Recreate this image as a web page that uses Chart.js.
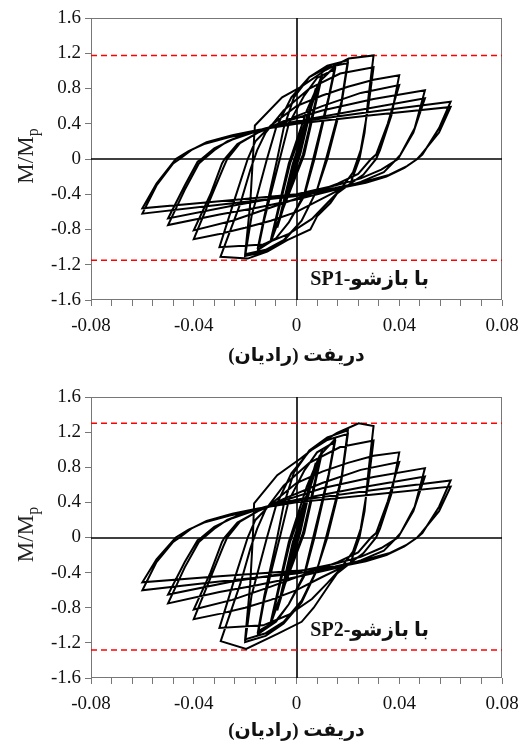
<!DOCTYPE html>
<html lang="fa">
<head>
<meta charset="UTF-8">
<title>M/Mp - Drift</title>
<script src="https://cdn.jsdelivr.net/npm/chart.js"></script>
<style>
  body { margin: 0; background: #fff; }
  canvas { display: block; }
</style>
</head>
<body>
<canvas id="chartSP1" width="521" height="371"></canvas>
<canvas id="chartSP2" width="521" height="371"></canvas>
<script>
// [drift (rad), M/Mp]
const sp1Loops = [
  [0, 0], [0.00375, 0.42], [0.0005, 0.03], [-0.00375, -0.41], [-0.0005, -0.03],
  [0.005, 0.56], [0.001, 0.05], [-0.005, -0.54], [-0.001, -0.05],
  [0.0075, 0.80], [0.0015, 0.06], [-0.0075, -0.78], [-0.0015, -0.06],
  [0.01, 0.97], [0.0025, 0.05], [-0.01, -0.94], [-0.0025, -0.05],
  [0.01, 0.95], [0.003, 0.05], [-0.01, -0.92], [-0.003, -0.05],
  [0.004, 0.55], [0.009, 0.88], [0.015, 1.05],
  [0.0125, 0.7], [0.0065, 0], [0.003, -0.4], [-0.003, -0.72], [-0.008, -0.9], [-0.015, -1.03],
  [-0.0125, -0.68], [-0.0065, 0], [-0.003, 0.4], [0.003, 0.72], [0.008, 0.92], [0.015, 1.02],
  [0.0125, 0.68], [0.007, 0], [0.003, -0.42], [-0.003, -0.72], [-0.008, -0.9], [-0.015, -1.0],
  [-0.0125, -0.65], [-0.0075, 0], [-0.005, 0.35], [-0.001, 0.7], [0.005, 0.93], [0.012, 1.06], [0.02, 1.12],
  [0.0175, 0.65], [0.0115, 0], [0.008, -0.35], [0.002, -0.7], [-0.005, -0.93], [-0.012, -1.05], [-0.02, -1.1],
  [-0.0175, -0.65], [-0.0115, 0], [-0.008, 0.35], [-0.002, 0.7], [0.005, 0.93], [0.012, 1.04], [0.02, 1.09],
  [0.0175, 0.62], [0.012, 0], [0.008, -0.35], [0.002, -0.7], [-0.005, -0.92], [-0.012, -1.03], [-0.02, -1.08],
  [-0.018, -0.5], [-0.017, 0], [-0.0162, 0.38], [-0.0056, 0.70], [0.0016, 0.815], [0.0113, 1.01], [0.0203, 1.14], [0.03, 1.175],
  [0.028, 0.7], [0.0265, 0.3], [0.0245, 0], [0.021, -0.28], [0.0158, -0.39], [0.0132, -0.5], [0.008, -0.65], [0.0054, -0.8], [-0.0036, -0.92], [-0.0114, -1.05], [-0.019, -1.13], [-0.0296, -1.11],
  [-0.0218, -0.5], [-0.018, -0.125], [-0.0153, 0.1], [-0.012, 0.3], [-0.005, 0.55], [0.005, 0.8], [0.017, 0.97], [0.03, 1.04],
  [0.028, 0.6], [0.025, 0.1], [0.022, -0.15], [0.017, -0.35], [0.012, -0.5], [0.006, -0.68], [-0.003, -0.85], [-0.013, -0.97], [-0.03, -1.0],
  [-0.024, -0.45], [-0.019, 0], [-0.016, 0.2], [-0.01, 0.38], [0, 0.6], [0.01, 0.72], [0.02, 0.82], [0.03, 0.9], [0.04, 0.95],
  [0.037, 0.5], [0.0325, 0.1], [0.031, 0], [0.026, -0.18], [0.02, -0.3], [0.01, -0.45], [0, -0.6], [-0.01, -0.7], [-0.02, -0.78], [-0.03, -0.85], [-0.04, -0.91],
  [-0.0335, -0.45], [-0.0285, -0.1], [-0.027, 0], [-0.022, 0.18], [-0.015, 0.3], [-0.005, 0.43], [0.01, 0.6], [0.025, 0.75], [0.04, 0.84],
  [0.0355, 0.4], [0.031, 0.05], [0.029, 0], [0.024, -0.17], [0.016, -0.28], [0.005, -0.4], [-0.01, -0.55], [-0.025, -0.7], [-0.04, -0.81],
  [-0.0335, -0.4], [-0.029, -0.05], [-0.028, 0], [-0.023, 0.17], [-0.015, 0.3], [-0.005, 0.42], [0.01, 0.55], [0.03, 0.68], [0.05, 0.78],
  [0.046, 0.35], [0.0405, 0.05], [0.039, 0], [0.034, -0.15], [0.025, -0.26], [0.015, -0.35], [0, -0.46], [-0.015, -0.55], [-0.03, -0.63], [-0.05, -0.75],
  [-0.0435, -0.35], [-0.038, -0.05], [-0.036, 0], [-0.032, 0.1], [-0.027, 0.2], [-0.02, 0.28], [-0.012, 0.35], [0, 0.43], [0.025, 0.56], [0.05, 0.69],
  [0.0455, 0.3], [0.0395, 0], [0.033, -0.12], [0.025, -0.22], [0.015, -0.3], [0, -0.4], [-0.025, -0.53], [-0.05, -0.675],
  [-0.0435, -0.3], [-0.0385, -0.03], [-0.037, 0], [-0.032, 0.12], [-0.025, 0.22], [-0.017, 0.3], [-0.008, 0.37], [0, 0.42], [0.03, 0.54], [0.06, 0.65],
  [0.0555, 0.35], [0.049, 0.05], [0.047, 0], [0.042, -0.1], [0.035, -0.2], [0.027, -0.27], [0.017, -0.33], [0, -0.42], [-0.03, -0.52], [-0.06, -0.62],
  [-0.0545, -0.3], [-0.048, -0.05], [-0.0455, 0], [-0.041, 0.1], [-0.035, 0.19], [-0.025, 0.27], [-0.015, 0.33], [0, 0.4], [0.03, 0.5], [0.06, 0.59],
  [0.0555, 0.3], [0.0485, 0.05], [0.047, 0], [0.043, -0.08], [0.036, -0.18], [0.026, -0.26], [0.015, -0.33], [0, -0.4], [-0.03, -0.48], [-0.06, -0.56],
  [-0.0545, -0.28], [-0.047, 0], [-0.042, 0.09], [-0.036, 0.17], [-0.026, 0.25], [-0.016, 0.31]
];

const sp2Loops = [
  [0, 0], [0.00375, 0.45], [0.0005, 0.03], [-0.00375, -0.44], [-0.0005, -0.03],
  [0.005, 0.6], [0.001, 0.05], [-0.005, -0.58], [-0.001, -0.05],
  [0.0075, 0.85], [0.0015, 0.06], [-0.0075, -0.83], [-0.0015, -0.06],
  [0.01, 1.0], [0.0025, 0.05], [-0.01, -0.98], [-0.0025, -0.05],
  [0.01, 0.98], [0.003, 0.05], [-0.01, -0.96], [-0.003, -0.05],
  [0.004, 0.58], [0.009, 0.93], [0.015, 1.12],
  [0.0125, 0.72], [0.0065, 0], [0.003, -0.42], [-0.003, -0.76], [-0.008, -0.96], [-0.015, -1.1],
  [-0.0125, -0.7], [-0.0065, 0], [-0.003, 0.42], [0.003, 0.76], [0.008, 0.97], [0.015, 1.09],
  [0.0125, 0.7], [0.007, 0], [0.003, -0.44], [-0.003, -0.76], [-0.008, -0.95], [-0.015, -1.07],
  [-0.0125, -0.66], [-0.0075, 0], [-0.005, 0.37], [-0.001, 0.74], [0.005, 0.99], [0.012, 1.14], [0.02, 1.22],
  [0.0175, 0.68], [0.0115, 0], [0.008, -0.37], [0.002, -0.74], [-0.005, -0.98], [-0.012, -1.12], [-0.02, -1.19],
  [-0.0175, -0.66], [-0.0115, 0], [-0.008, 0.36], [-0.002, 0.73], [0.005, 0.98], [0.012, 1.11], [0.02, 1.18],
  [0.0175, 0.65], [0.012, 0], [0.008, -0.36], [0.002, -0.72], [-0.005, -0.96], [-0.012, -1.09], [-0.02, -1.16],
  [-0.018, -0.52], [-0.017, 0], [-0.0165, 0.39], [-0.0075, 0.71], [0.0016, 0.90], [0.0093, 1.075], [0.0158, 1.19], [0.0242, 1.30], [0.03, 1.27],
  [0.028, 0.75], [0.0265, 0.3], [0.0245, 0], [0.021, -0.29], [0.0158, -0.41], [0.0125, -0.55], [0.0067, -0.8], [0.002, -0.96], [-0.0076, -1.1], [-0.0196, -1.27], [-0.0295, -1.18],
  [-0.0218, -0.52], [-0.018, -0.13], [-0.0153, 0.1], [-0.012, 0.32], [-0.005, 0.59], [0.005, 0.85], [0.017, 1.03], [0.03, 1.105],
  [0.028, 0.63], [0.025, 0.1], [0.022, -0.16], [0.017, -0.36], [0.012, -0.52], [0.006, -0.7], [-0.003, -0.88], [-0.013, -1.0], [-0.03, -1.03],
  [-0.024, -0.46], [-0.019, 0], [-0.016, 0.2], [-0.01, 0.38], [0, 0.62], [0.01, 0.75], [0.02, 0.85], [0.03, 0.93], [0.04, 0.97],
  [0.037, 0.5], [0.0325, 0.1], [0.031, 0], [0.026, -0.18], [0.02, -0.31], [0.01, -0.45], [0, -0.6], [-0.01, -0.71], [-0.02, -0.8], [-0.03, -0.87], [-0.04, -0.93],
  [-0.0335, -0.46], [-0.0285, -0.1], [-0.027, 0], [-0.022, 0.18], [-0.015, 0.3], [-0.005, 0.44], [0.01, 0.62], [0.025, 0.77], [0.04, 0.86],
  [0.0355, 0.41], [0.031, 0.05], [0.029, 0], [0.024, -0.17], [0.016, -0.28], [0.005, -0.4], [-0.01, -0.56], [-0.025, -0.71], [-0.04, -0.82],
  [-0.0335, -0.4], [-0.029, -0.05], [-0.028, 0], [-0.023, 0.17], [-0.015, 0.3], [-0.005, 0.42], [0.01, 0.56], [0.03, 0.69], [0.05, 0.79],
  [0.046, 0.35], [0.0405, 0.05], [0.039, 0], [0.034, -0.15], [0.025, -0.26], [0.015, -0.35], [0, -0.45], [-0.015, -0.54], [-0.03, -0.62], [-0.05, -0.75],
  [-0.0435, -0.34], [-0.038, -0.05], [-0.036, 0], [-0.032, 0.1], [-0.027, 0.2], [-0.02, 0.28], [-0.012, 0.35], [0, 0.43], [0.025, 0.57], [0.05, 0.695],
  [0.0455, 0.3], [0.0395, 0], [0.033, -0.12], [0.025, -0.22], [0.015, -0.3], [0, -0.39], [-0.025, -0.5], [-0.05, -0.65],
  [-0.0435, -0.28], [-0.0385, -0.03], [-0.037, 0], [-0.032, 0.12], [-0.025, 0.22], [-0.017, 0.3], [-0.008, 0.37], [0, 0.42], [0.03, 0.54], [0.06, 0.65],
  [0.0555, 0.35], [0.049, 0.05], [0.047, 0], [0.042, -0.1], [0.035, -0.2], [0.027, -0.27], [0.017, -0.33], [0, -0.41], [-0.03, -0.5], [-0.06, -0.6],
  [-0.0545, -0.28], [-0.048, -0.05], [-0.0455, 0], [-0.041, 0.1], [-0.035, 0.19], [-0.025, 0.27], [-0.015, 0.33], [0, 0.4], [0.03, 0.49], [0.06, 0.58],
  [0.0555, 0.3], [0.0485, 0.05], [0.047, 0], [0.043, -0.08], [0.036, -0.18], [0.026, -0.26], [0.015, -0.33], [0, -0.38], [-0.03, -0.44], [-0.06, -0.51],
  [-0.0545, -0.25], [-0.047, 0], [-0.042, 0.09], [-0.036, 0.17], [-0.026, 0.25], [-0.016, 0.31]
];

// red dashed peak lines [upper, lower]
const sp1Limits = [1.175, -1.15];
const sp2Limits = [1.30, -1.28];

const driftRange = [-0.08, 0.08];
const momentRange = [-1.6, 1.6];
const xTitle = 'دریفت (رادیان)\u200F';
const sp1Caption = 'SP1-با بازشو';
const sp2Caption = 'SP2-با بازشو';

const SERIF = "'Liberation Serif', 'Times New Roman', 'DejaVu Serif', serif";
const TEXT_FONT = "'Liberation Serif', 'Times New Roman', 'DejaVu Sans', serif";

function limitLine(v) {
    return {
        data: [{x: driftRange[0], y: v}, {x: driftRange[1], y: v}],
        borderColor: '#ff0000',
        borderWidth: 1.5,
        borderDash: [6, 4],
        pointRadius: 0,
        showLine: true
    };
}

function buildChart(canvasId, loops, limits, caption, captionAt, box) {
    const ctx = document.getElementById(canvasId).getContext('2d');

    const decor = {
        id: 'decor',
        beforeDatasetsDraw(chart) {
            const {ctx, chartArea: a, scales: {x, y}} = chart;
            const x0 = Math.round(x.getPixelForValue(0));
            const y0 = Math.round(y.getPixelForValue(0));
            ctx.save();
            ctx.strokeStyle = '#777';
            ctx.lineWidth = 1;
            ctx.strokeRect(a.left + 0.5, a.top + 0.5, a.right - a.left - 1, a.bottom - a.top - 1);
            ctx.strokeStyle = '#000';
            ctx.lineWidth = 1.6;
            ctx.beginPath();
            ctx.moveTo(a.left, y0);
            ctx.lineTo(a.right, y0);
            ctx.moveTo(x0, a.top);
            ctx.lineTo(x0, a.bottom);
            ctx.stroke();
            ctx.restore();
        },
        afterDraw(chart) {
            const {ctx, chartArea: a, scales: {x, y}} = chart;
            ctx.save();
            // y axis title M/Mp with subscript
            ctx.translate(25, (a.top + a.bottom) / 2 - 3);
            ctx.rotate(-Math.PI / 2);
            ctx.fillStyle = '#222';
            ctx.textBaseline = 'alphabetic';
            ctx.font = '23px ' + SERIF;
            const main = 'M/M';
            const wMain = ctx.measureText(main).width;
            ctx.font = '16px ' + SERIF;
            const wSub = ctx.measureText('p').width;
            const start = -(wMain + wSub) / 2;
            ctx.font = '23px ' + SERIF;
            ctx.fillText(main, start, 8);
            ctx.font = '16px ' + SERIF;
            ctx.fillText('p', start + wMain, 13);
            ctx.restore();

            ctx.save();
            ctx.font = 'bold 20px ' + TEXT_FONT;
            ctx.fillStyle = '#111';
            ctx.textAlign = 'center';
            ctx.textBaseline = 'middle';
            ctx.fillText(caption, x.getPixelForValue(captionAt[0]), y.getPixelForValue(captionAt[1]));
            ctx.restore();
        }
    };

    return new Chart(ctx, {
        type: 'scatter',
        data: {
            datasets: [
                {
                    data: loops.map(p => ({x: p[0], y: p[1]})),
                    borderColor: '#000',
                    borderWidth: 2,
                    pointRadius: 0,
                    showLine: true,
                    tension: 0
                },
                limitLine(limits[0]),
                limitLine(limits[1])
            ]
        },
        options: {
            responsive: false,
            animation: false,
            devicePixelRatio: 1,
            layout: {padding: {top: box.top, right: 19, left: 0, bottom: 0}},
            plugins: {legend: {display: false}, tooltip: {enabled: false}},
            scales: {
                x: {
                    type: 'linear',
                    min: driftRange[0],
                    max: driftRange[1],
                    border: {display: false},
                    grid: {drawOnChartArea: false, tickLength: 6, color: '#777'},
                    ticks: {
                        stepSize: 0.008,
                        autoSkip: false,
                        maxRotation: 0,
                        padding: 9,
                        color: '#111',
                        font: {family: SERIF, size: 19},
                        callback: v => {
                            const k = v / 0.04;
                            if (Math.abs(k - Math.round(k)) > 1e-6) return '';
                            return Math.round(k) === 0 ? '0' : (Math.round(k) * 0.04).toFixed(2);
                        }
                    },
                    title: {
                        display: true,
                        text: xTitle,
                        color: '#111',
                        font: {family: TEXT_FONT, size: 19, weight: 'bold'},
                        padding: {top: 0, bottom: box.titlePad}
                    },
                    afterFit: s => {
                        s.height = box.xHeight;
                        s.paddingLeft = 0;
                        s.paddingRight = 0;
                    }
                },
                y: {
                    type: 'linear',
                    min: momentRange[0],
                    max: momentRange[1],
                    border: {display: false},
                    grid: {drawOnChartArea: false, tickLength: 6, color: '#777'},
                    ticks: {
                        stepSize: 0.4,
                        padding: 4,
                        color: '#111',
                        font: {family: SERIF, size: 19}
                    },
                    afterFit: s => { s.width = 91; }
                }
            }
        },
        plugins: [decor]
    });
}

buildChart('chartSP1', sp1Loops, sp1Limits, sp1Caption, [0.0285, -1.37],
    {top: 18, xHeight: 71, titlePad: 4});
buildChart('chartSP2', sp2Loops, sp2Limits, sp2Caption, [0.0285, -1.06],
    {top: 26, xHeight: 64, titlePad: 0});
</script>
</body>
</html>
